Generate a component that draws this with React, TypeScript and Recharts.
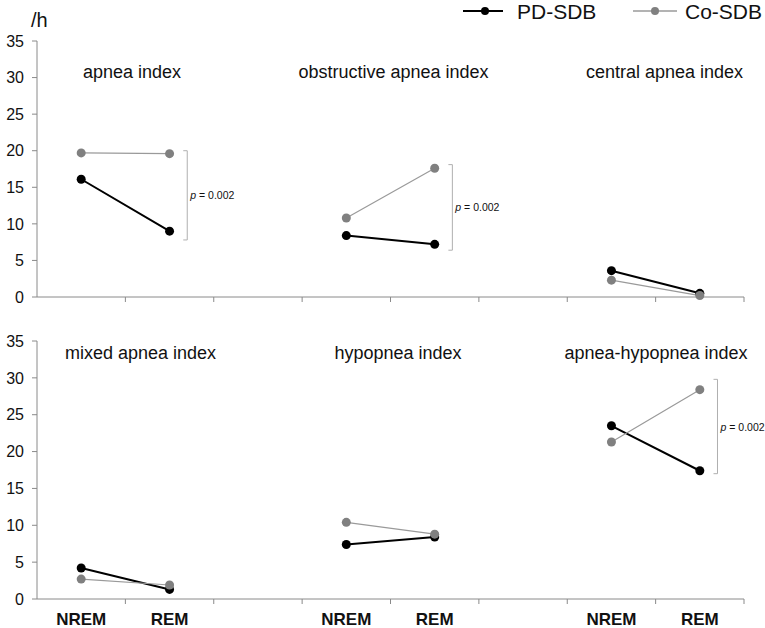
import React from 'react';
import { LineChart, Line, XAxis, YAxis, ReferenceLine } from 'recharts';

const categories = ['NREM', 'REM', '', 'NREM', 'REM', '', 'NREM', 'REM'];
const pdTop = [16.1, 9.0, null, 8.4, 7.2, null, 3.6, 0.5];
const coTop = [19.7, 19.6, null, 10.8, 17.6, null, 2.3, 0.2];
const pdBottom = [4.2, 1.3, null, 7.4, 8.4, null, 23.5, 17.4];
const coBottom = [2.7, 1.9, null, 10.4, 8.8, null, 21.3, 28.4];
const topTitles = ['apnea index', 'obstructive apnea index', 'central apnea index'];
const bottomTitles = ['mixed apnea index', 'hypopnea index', 'apnea-hypopnea index'];
const yTicks = [0, 5, 10, 15, 20, 25, 30, 35];
const seriesNames = ['PD-SDB', 'Co-SDB'];
const pValue = '0.002';
const topBrackets = [
  { pair: 0, high: 20.0, low: 7.8 },
  { pair: 1, high: 18.1, low: 6.4 },
];
const bottomBrackets = [{ pair: 2, high: 29.8, low: 17.0 }];

const FONT = '"Liberation Sans", Arial, sans-serif';
const AXIS = '#8a8a8a';
const PD_COLOR = '#000000';
const CO_COLOR = '#808080';
const CO_LINE = '#9a9a9a';
const BRACKET = '#b0b0b0';

const xTicks: number[] = [];
for (let i = 1; i <= categories.length; i++) xTicks.push(i);
for (let i = 0; i < categories.length; i++) xTicks.push(i + 0.5);
xTicks.sort((a, b) => a - b);

function buildData(pd: (number | null)[], co: (number | null)[]) {
  return categories.map((c, i) => ({ pos: i + 0.5, cat: c, pd: pd[i], co: co[i] }));
}

const makeTick = (showLabels: boolean) => (props: any) => {
  const { x, y, payload } = props;
  const v = payload.value as number;
  if (Number.isInteger(v)) {
    return <line x1={x} x2={x} y1={y} y2={y + 5} stroke={AXIS} strokeWidth={1} />;
  }
  if (!showLabels) return <g />;
  const label = categories[Math.floor(v)];
  return (
    <text x={x} y={y + 26} textAnchor="middle" fontFamily={FONT} fontWeight="bold" fontSize={17} fill="#111">
      {label}
    </text>
  );
};

const PLabel = (props: any) => {
  const vb = props.viewBox || {};
  const x = (vb.x ?? 0) + 3;
  const y = (vb.y ?? 0) + (vb.height ?? 0) / 2;
  return (
    <text x={x} y={y} dominantBaseline="central" fontFamily={FONT} fontSize={10.5} fill="#111">
      <tspan fontStyle="italic">p</tspan>
      <tspan> = {pValue}</tspan>
    </text>
  );
};

function brackets(list: { pair: number; high: number; low: number }[]) {
  const out: React.ReactNode[] = [];
  list.forEach((b, k) => {
    const bx = b.pair * 3 + 1.5 + 0.2;
    const lx = bx - 0.045;
    out.push(
      <ReferenceLine
        key={`v${k}`}
        segment={[{ x: bx, y: b.high }, { x: bx, y: b.low }]}
        stroke={BRACKET}
        strokeWidth={1}
        label={<PLabel />}
        ifOverflow="visible"
      />
    );
    out.push(
      <ReferenceLine key={`t${k}`} segment={[{ x: lx, y: b.high }, { x: bx, y: b.high }]} stroke={BRACKET} strokeWidth={1} ifOverflow="visible" />
    );
    out.push(
      <ReferenceLine key={`b${k}`} segment={[{ x: lx, y: b.low }, { x: bx, y: b.low }]} stroke={BRACKET} strokeWidth={1} ifOverflow="visible" />
    );
  });
  return out;
}

function Panel(props: {
  pd: (number | null)[];
  co: (number | null)[];
  height: number;
  top: number;
  xAxisHeight: number;
  showLabels: boolean;
  titles: string[];
  titleX: number[];
  titleY: number;
  bracketList: { pair: number; high: number; low: number }[];
  extra?: React.ReactNode;
}) {
  const data = buildData(props.pd, props.co);
  return (
    <LineChart
      width={765}
      height={props.height}
      data={data}
      margin={{ top: props.top, right: 21, bottom: 0, left: 0 }}
    >
      <XAxis
        dataKey="pos"
        type="number"
        domain={[0, 8]}
        ticks={xTicks}
        interval={0}
        height={props.xAxisHeight}
        tickLine={false}
        tickSize={0}
        tickMargin={0}
        axisLine={{ stroke: AXIS, strokeWidth: 1 }}
        tick={makeTick(props.showLabels)}
        allowDataOverflow
      />
      <YAxis
        type="number"
        domain={[0, 35]}
        ticks={yTicks}
        width={37}
        interval={0}
        axisLine={{ stroke: AXIS, strokeWidth: 1 }}
        tickLine={{ stroke: AXIS, strokeWidth: 1 }}
        tickSize={5}
        tickMargin={8}
        tick={{ fontSize: 16, fill: '#111', fontFamily: FONT }}
      />
      <Line
        dataKey="pd"
        name={seriesNames[0]}
        stroke={PD_COLOR}
        strokeWidth={2}
        dot={{ r: 4.5, fill: PD_COLOR, stroke: PD_COLOR, strokeWidth: 0 }}
        connectNulls={false}
        isAnimationActive={false}
      />
      <Line
        dataKey="co"
        name={seriesNames[1]}
        stroke={CO_LINE}
        strokeWidth={1.2}
        dot={{ r: 4.5, fill: CO_COLOR, stroke: CO_COLOR, strokeWidth: 0 }}
        connectNulls={false}
        isAnimationActive={false}
      />
      {brackets(props.bracketList)}
      {props.titles.map((t, i) => (
        <text
          key={t}
          x={props.titleX[i]}
          y={props.titleY}
          textAnchor="middle"
          dominantBaseline="central"
          fontFamily={FONT}
          fontSize={18}
          fill="#111"
        >
          {t}
        </text>
      ))}
      {props.extra}
    </LineChart>
  );
}

export default function App() {
  const legend = (
    <g>
      <text x={31} y={20} dominantBaseline="central" fontFamily={FONT} fontSize={20} fill="#111">/h</text>
      <line x1={463} x2={503} y1={11} y2={11} stroke={PD_COLOR} strokeWidth={2} />
      <circle cx={485} cy={11} r={4} fill={PD_COLOR} />
      <text x={517} y={11} dominantBaseline="central" fontFamily={FONT} fontSize={21} fill="#111">{seriesNames[0]}</text>
      <line x1={633} x2={677} y1={11} y2={11} stroke={CO_LINE} strokeWidth={1.5} />
      <circle cx={655} cy={11} r={4} fill={CO_COLOR} />
      <text x={685} y={11} dominantBaseline="central" fontFamily={FONT} fontSize={21} fill="#111">{seriesNames[1]}</text>
    </g>
  );
  return (
    <div style={{ position: 'absolute', left: 0, top: 0, width: 765, height: 628, background: '#fff' }}>
      <Panel
        pd={pdTop}
        co={coTop}
        height={310}
        top={41}
        xAxisHeight={13}
        showLabels={false}
        titles={topTitles}
        titleX={[132, 393.5, 664.5]}
        titleY={71.7}
        bracketList={topBrackets}
        extra={legend}
      />
      <Panel
        pd={pdBottom}
        co={coBottom}
        height={318}
        top={31}
        xAxisHeight={29}
        showLabels={true}
        titles={bottomTitles}
        titleX={[140.5, 398, 656]}
        titleY={43.3}
        bracketList={bottomBrackets}
      />
    </div>
  );
}
